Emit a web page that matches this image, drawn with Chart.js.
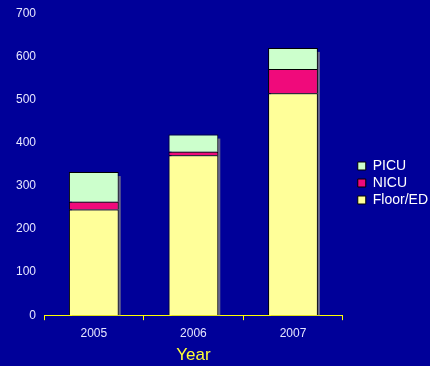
<!DOCTYPE html>
<html>
<head>
<meta charset="utf-8">
<script src="https://cdn.jsdelivr.net/npm/chart.js@4"></script>
<style>
  html, body { margin: 0; padding: 0; background: #000099; }
  #wrap { width: 430px; height: 366px; position: relative; }
</style>
</head>
<body>
<div id="wrap"><canvas id="myChart"></canvas></div>
<script>
// data
const years = ['2005', '2006', '2007'];
const floorED = [245, 371, 515];
const nicu = [18, 8, 56];
const picu = [69, 40, 49];
const yTicks = [0, 100, 200, 300, 400, 500, 600, 700];

// grey drop shadow on the right of each stacked bar
const shadowPlugin = {
  id: 'barShadow',
  beforeDatasetsDraw(chart) {
    const ctx = chart.ctx;
    const first = chart.getDatasetMeta(0);
    const last = chart.getDatasetMeta(chart.data.datasets.length - 1);
    ctx.save();
    ctx.fillStyle = '#67678c';
    last.data.forEach((bar, i) => {
      const base = first.data[i].base;
      const w = bar.width;
      ctx.fillRect(bar.x - w / 2 + 3, bar.y + 4, w - 1, base - bar.y - 4);
    });
    ctx.restore();
  }
};

// nudge the legend to the right, closer to the edge like the original
const legendShift = {
  id: 'legendShift',
  afterLayout(chart) {
    chart.legend.left += 12;
    chart.legend.right += 12;
  }
};

const ctx = document.getElementById('myChart');

const config = {
  type: 'bar',
  data: {
    labels: years,
    datasets: [
      { label: 'Floor/ED', data: floorED, backgroundColor: '#ffff99' },
      { label: 'NICU', data: nicu, backgroundColor: '#f00a7b' },
      { label: 'PICU', data: picu, backgroundColor: '#ccffcc' }
    ]
  },
  options: {
    responsive: true,
    maintainAspectRatio: false,
    animation: false,
    datasets: {
      bar: {
        borderColor: '#000000',
        borderWidth: 1,
        borderSkipped: 'start',
        barPercentage: 0.5,
        categoryPercentage: 1
      }
    },
    layout: { padding: { left: 8, right: 4, top: 0, bottom: 0 } },
    plugins: {
      legend: {
        position: 'right',
        reverse: true,
        labels: {
          color: '#ffffff',
          boxWidth: 8,
          boxHeight: 8,
          padding: 3,
          font: { family: 'Liberation Sans, Arial', size: 14 },
          generateLabels: (chart) => Chart.defaults.plugins.legend.labels.generateLabels(chart).map(l => {
            l.lineWidth = 1;
            l.strokeStyle = '#000000';
            return l;
          })
        }
      },
      tooltip: { enabled: false }
    },
    scales: {
      x: {
        stacked: true,
        border: { display: true, color: '#ffff00', width: 1 },
        grid: {
          display: true,
          offset: true,
          drawOnChartArea: false,
          drawTicks: true,
          tickLength: 5,
          color: '#ffff00'
        },
        ticks: {
          color: '#e6e6ff',
          padding: 6,
          font: { family: 'Liberation Sans, Arial', size: 12 }
        },
        title: {
          display: true,
          text: 'Year',
          color: '#ffff33',
          padding: { top: -1, bottom: 0 },
          font: { family: 'Liberation Sans, Arial', size: 17 }
        }
      },
      y: {
        stacked: true,
        min: 0,
        max: 700,
        border: { display: false },
        grid: { display: false, drawTicks: false },
        afterBuildTicks: (axis) => { axis.ticks = yTicks.map(v => ({ value: v })); },
        ticks: {
          color: '#e6e6ff',
          padding: 8,
          font: { family: 'Liberation Sans, Arial', size: 12, lineHeight: 0.9 }
        }
      }
    }
  },
  plugins: [shadowPlugin, legendShift]
};

const chart = new Chart(ctx, config);
</script>
</body>
</html>
